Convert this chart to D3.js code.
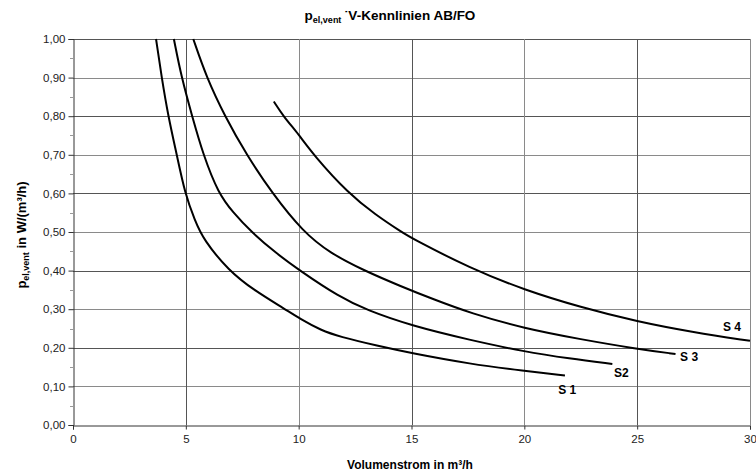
<!DOCTYPE html>
<html>
<head>
<meta charset="utf-8">
<script src="https://cdn.jsdelivr.net/npm/d3@7"></script>
<style>
  body { margin: 0; background: #fff; }
  text { font-family: "Liberation Sans", Arial, sans-serif; }
</style>
</head>
<body>
<div id="chart"></div>
<script>
var svgWidth = 756;
var svgHeight = 473;

var margin = { top: 39, right: 6, bottom: 48, left: 73 };
var width = svgWidth - margin.left - margin.right;
var height = svgHeight - margin.top - margin.bottom;

// data: volume flow (m³/h) and p_el,vent (W/(m³/h))
var s1X = [3.68, 3.93, 4.22, 4.6, 4.96, 5.4, 5.78, 6.9, 8.0, 9.4, 10.06, 11.0, 11.8, 13.5, 15.0, 17.6, 20.0, 21.8];
var s1Y = [1.00, 0.90, 0.80, 0.70, 0.60, 0.53, 0.48, 0.40, 0.35, 0.30, 0.275, 0.245, 0.229, 0.205, 0.186, 0.158, 0.14, 0.128];

var s2X = [4.47, 4.81, 5.28, 5.77, 6.44, 7.1, 7.9, 9.0, 10.05, 11.8, 13.0, 15.0, 17.6, 20.0, 22.0, 23.9];
var s2Y = [1.00, 0.90, 0.80, 0.70, 0.60, 0.55, 0.50, 0.445, 0.40, 0.332, 0.298, 0.257, 0.22, 0.19, 0.172, 0.158];

var s3X = [5.33, 5.92, 6.73, 7.69, 8.83, 10.2, 11.4, 12.9, 14.5, 16.0, 17.6, 20.0, 22.5, 25.0, 26.7];
var s3Y = [1.00, 0.90, 0.80, 0.70, 0.60, 0.50, 0.445, 0.40, 0.36, 0.325, 0.29, 0.25, 0.222, 0.197, 0.184];

var s4X = [8.9, 9.32, 10.0, 10.65, 12.2, 13.4, 14.56, 15.0, 17.6, 20.0, 22.5, 25.0, 27.5, 30.0];
var s4Y = [0.838, 0.80, 0.753, 0.70, 0.60, 0.545, 0.50, 0.484, 0.406, 0.35, 0.305, 0.268, 0.24, 0.218];

var seriesNames = ["S 1", "S2", "S 3", "S 4"];
var xTicks = [0, 5, 10, 15, 20, 25, 30];
var yTicks = [0, 0.1, 0.2, 0.3, 0.4, 0.5, 0.6, 0.7, 0.8, 0.9, 1.0];

var allSeries = [
  { name: seriesNames[0], x: s1X, y: s1Y, lx: 21.9, ly: 0.09 },
  { name: seriesNames[1], x: s2X, y: s2Y, lx: 24.3, ly: 0.135 },
  { name: seriesNames[2], x: s3X, y: s3Y, lx: 27.3, ly: 0.176 },
  { name: seriesNames[3], x: s4X, y: s4Y, lx: 29.2, ly: 0.254 }
];

var svg = d3.select("#chart")
  .append("svg")
  .attr("width", svgWidth)
  .attr("height", svgHeight);

var chartGroup = svg.append("g")
  .attr("transform", `translate(${margin.left}, ${margin.top})`);

var xLinearScale = d3.scaleLinear().domain([0, 30]).range([0, width]);
var yLinearScale = d3.scaleLinear().domain([0, 1]).range([height, 0]);

// grid
chartGroup.append("g")
  .selectAll("line")
  .data(yTicks.slice(1))
  .enter()
  .append("line")
  .attr("x1", 0)
  .attr("x2", width)
  .attr("y1", d => Math.round(yLinearScale(d)) + 0.5)
  .attr("y2", d => Math.round(yLinearScale(d)) + 0.5)
  .attr("stroke", (d, i) => i % 2 ? "#555" : "#8a8a8a")
  .attr("stroke-width", 1);

chartGroup.append("g")
  .selectAll("line")
  .data(xTicks.slice(1))
  .enter()
  .append("line")
  .attr("y1", 0)
  .attr("y2", height)
  .attr("x1", d => Math.round(xLinearScale(d)) + 0.5)
  .attr("x2", d => Math.round(xLinearScale(d)) + 0.5)
  .attr("stroke", (d, i) => i % 2 ? "#8a8a8a" : "#555")
  .attr("stroke-width", 1);

// minor y ticks
chartGroup.append("g")
  .selectAll("line")
  .data(d3.range(0.05, 1, 0.1))
  .enter()
  .append("line")
  .attr("x1", -3)
  .attr("x2", 0)
  .attr("y1", d => Math.round(yLinearScale(d)) + 0.5)
  .attr("y2", d => Math.round(yLinearScale(d)) + 0.5)
  .attr("stroke", "#999");

var fmt = d => d.toFixed(2).replace(".", ",");

var leftAxis = d3.axisLeft(yLinearScale).tickValues(yTicks).tickFormat(fmt).tickSize(5).tickPadding(3);
var bottomAxis = d3.axisBottom(xLinearScale).tickValues(xTicks).tickFormat(d3.format("d")).tickSize(4).tickPadding(5);

var yAxis = chartGroup.append("g")
  .attr("transform", "translate(0.5,0)")
  .call(leftAxis);

var xAxis = chartGroup.append("g")
  .attr("transform", `translate(0, ${height + 0.5})`)
  .call(bottomAxis);

[yAxis, xAxis].forEach(function(ax) {
  ax.select(".domain").attr("stroke", "#333");
  ax.selectAll(".tick line").attr("stroke", "#333");
  ax.selectAll("text")
    .attr("font-size", 11.5)
    .attr("fill", "#222")
    .style("font-family", "Liberation Sans, Arial, sans-serif");
});

// curves (smoothed like the spreadsheet lines)
var line = d3.line()
  .x(d => xLinearScale(d[0]))
  .y(d => yLinearScale(d[1]))
  .curve(d3.curveBasis);

allSeries.forEach(function(s) {
  var pts = s.x.map((v, i) => [v, s.y[i]]);
  chartGroup.append("path")
    .datum(pts)
    .attr("d", line)
    .attr("fill", "none")
    .attr("stroke", "#000")
    .attr("stroke-width", 2);

  chartGroup.append("text")
    .attr("x", xLinearScale(s.lx))
    .attr("y", yLinearScale(s.ly))
    .attr("text-anchor", "middle")
    .attr("dy", "0.35em")
    .attr("font-size", 12)
    .attr("font-weight", "bold")
    .text(s.name);
});

// title
var title = svg.append("text")
  .attr("x", 390)
  .attr("y", 20)
  .attr("text-anchor", "middle")
  .attr("font-size", 13.5)
  .attr("font-weight", "bold");
title.append("tspan").text("p");
title.append("tspan").attr("font-size", 9).attr("dy", 3).text("el,vent ");
title.append("tspan").attr("dy", -3).text("\u02D9V-Kennlinien AB/FO");

// x label
svg.append("text")
  .attr("x", 410)
  .attr("y", 469)
  .attr("text-anchor", "middle")
  .attr("font-size", 12)
  .attr("font-weight", "bold")
  .text("Volumenstrom in m\u00B3/h");

// y label
var ylab = svg.append("text")
  .attr("transform", "translate(26, 235) rotate(-90)")
  .attr("text-anchor", "middle")
  .attr("font-size", 13)
  .attr("font-weight", "bold");
ylab.append("tspan").text("p");
ylab.append("tspan").attr("font-size", 9).attr("dy", 3).text("el,vent");
ylab.append("tspan").attr("dy", -3).text(" in W/(m\u00B3/h)");
</script>
</body>
</html>
